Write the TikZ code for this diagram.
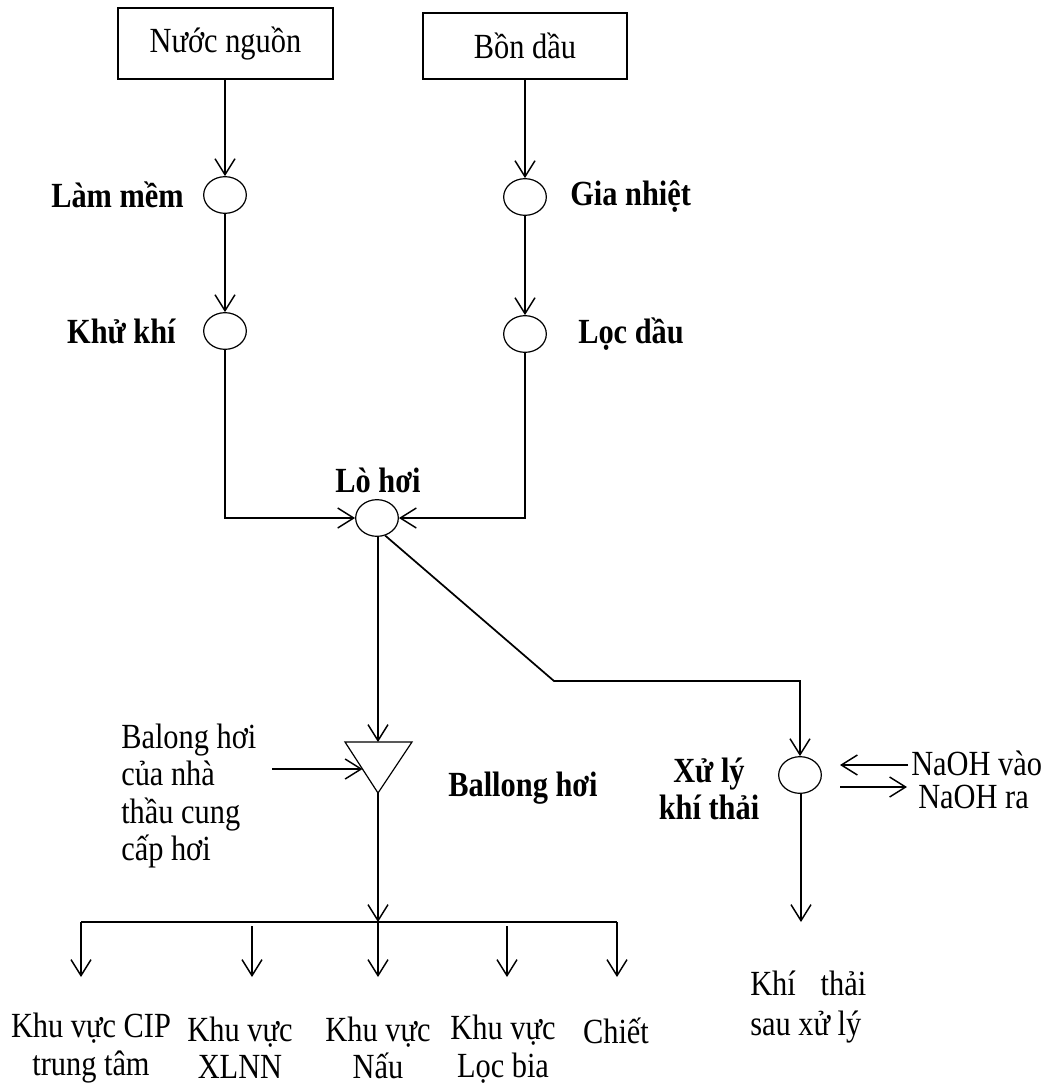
\documentclass[tikz,border=0pt]{standalone}
\usepackage{fontspec}
\setmainfont{Liberation Serif}[FakeStretch=0.86]
\usetikzlibrary{arrows.meta,shapes.geometric}
\begin{document}
\begin{tikzpicture}[x=0.75pt,y=-0.75pt,
  every node/.style={font=\fontsize{26.5}{27}\selectfont, inner sep=0pt},
  conn/.style={line width=1.3pt},
  flow/.style={conn, -{Straight Barb[length=12pt,width=15pt,line width=1.1pt]}},
  srcbox/.style={draw, line width=1.3pt, rectangle},
  unit/.style={draw, line width=0.9pt, ellipse, minimum width=32pt, minimum height=27.5pt},
  lbl/.style={font=\fontsize{26.5}{27.5}\selectfont\bfseries},
  txt/.style={font=\fontsize{26.5}{28}\selectfont}]
\useasboundingbox (0,0) rectangle (1059,1086);

% sources
\node[srcbox, minimum width=161pt, minimum height=53pt] (water) at (225.5,43.5) {Nước nguồn};
\node[srcbox, minimum width=153pt, minimum height=49.5pt] (oil) at (525,46) {Bồn dầu};

% treatment units
\node[unit] (soft) at (225,195) {};
\node[unit] (degas) at (225,331) {};
\node[unit] (heat) at (525,197) {};
\node[unit] (filt) at (525,334) {};
\node[unit] (boiler) at (377,518) {};
\node[unit] (scrub) at (800,775) {};

\node[lbl, anchor=east] (softl) at (184,195) {Làm mềm};
\node[lbl, anchor=east] (degasl) at (176,331) {Khử khí};
\node[lbl, anchor=west] (heatl) at (570,197) {Gia nhiệt};
\node[lbl, anchor=west] (filtl) at (578,334) {Lọc dầu};
\node[lbl] (boilerl) at (378,480) {Lò hơi};

% water and oil lines
\draw[flow] (water.south -| soft) -- (soft.north);
\draw[flow] (soft.south) -- (degas.north);
\draw[flow] (oil.south -| heat) -- (heat.north);
\draw[flow] (heat.south) -- (filt.north);
\draw[flow] (degas.south) |- (boiler.west);
\draw[flow] (filt.south) |- (boiler.east);

% steam drum (triangle)
\coordinate (tl) at (345,742);
\coordinate (tr) at (412,742);
\coordinate (tip) at (378,793);
\coordinate (ttop) at (378,742);
\coordinate (tleft) at (362.5,769);
\draw[line width=0.9pt] (tl) -- (tr) -- (tip) -- cycle;
\draw[flow] (boiler.south -| ttop) -- (ttop);

\node[txt, align=left, anchor=west] (ext) at (121,796) {Balong hơi\\của nhà\\thầu cung\\cấp hơi};
\coordinate (extend) at (272,769);
\draw[flow] (extend) -- (tleft);
\node[lbl] (druml) at (523,788) {Ballong hơi};

% flue gas line
\coordinate (bend) at (554,681);
\draw[flow] (boiler.-65) -- (bend) -| (scrub.north);
\node[lbl, align=center] (scrubl) at (709,789) {Xử lý\\khí thải};

\node[anchor=west] (naohin) at (911,763) {NaOH vào};
\node[anchor=west] (naohout) at (918,797) {NaOH ra};
\coordinate (inA) at (908,765);
\coordinate (inB) at (840,765);
\coordinate (outA) at (840,787);
\coordinate (outB) at (907,787);
\draw[flow] (inA) -- (inB);
\draw[flow] (outA) -- (outB);

\coordinate (gasend) at (801,922);
\draw[flow] (scrub.south -| gasend) -- (gasend);
\node[font=\fontsize{26.5}{30.5}\selectfont, align=left, anchor=west] (gas) at (750,1007) {\hbox to 87pt{Khí\hfill thải}\\sau xử lý};

% steam distribution
\coordinate (bl) at (81,922);
\coordinate (br) at (617,922);
\coordinate (bm) at (378,922);
\draw[conn] (bl) -- (br);
\draw[flow] (tip) -- (bm);

\coordinate (s1) at (81,922);   \coordinate (e1) at (81,977);
\coordinate (s2) at (252,926);  \coordinate (e2) at (252,977);
\coordinate (s3) at (378,922);  \coordinate (e3) at (378,977);
\coordinate (s4) at (507,926);  \coordinate (e4) at (507,977);
\coordinate (s5) at (617,922);  \coordinate (e5) at (617,977);
\foreach \i in {1,...,5} \draw[flow] (s\i) -- (e\i);

\node[txt, align=center] (cip) at (91,1048) {Khu vực CIP\\trung tâm};
\node[txt, align=center] (xlnn) at (240,1048) {Khu vực\\XLNN};
\node[txt, align=center] (nau) at (378,1048) {Khu vực\\Nấu};
\node[txt, align=center] (loc) at (503,1049) {Khu vực\\Lọc bia};
\node[txt] (chiet) at (616,1031) {Chiết};
\end{tikzpicture}
\end{document}
